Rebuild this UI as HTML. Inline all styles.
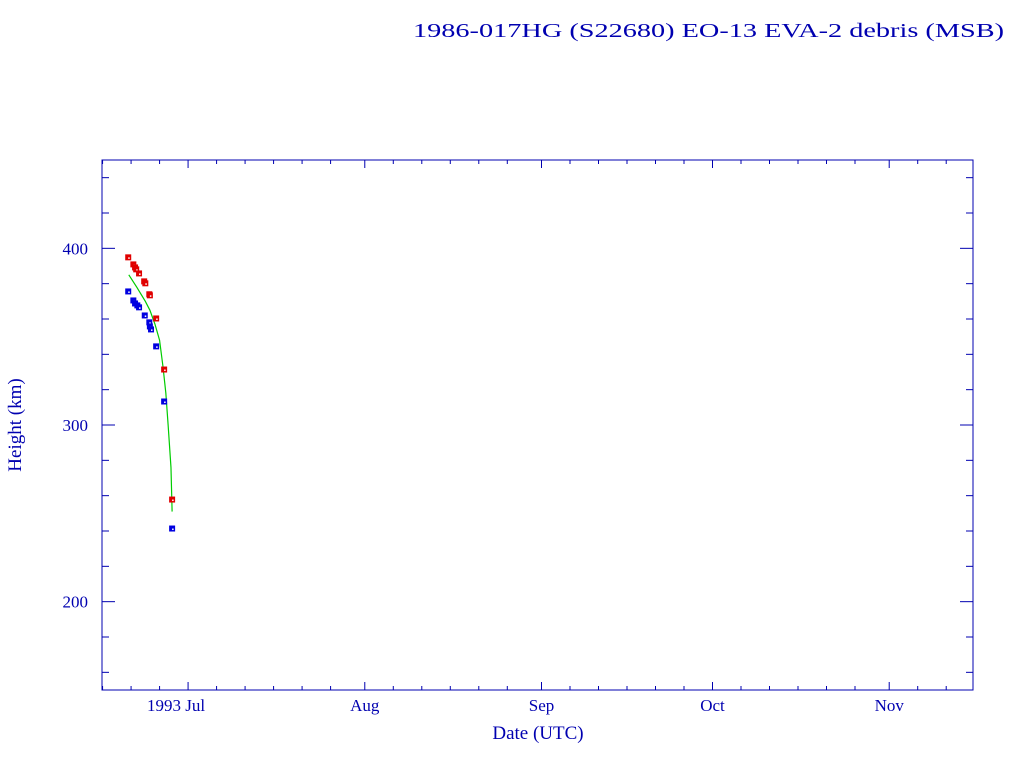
<!DOCTYPE html>
<html><head><meta charset="utf-8"><style>
html,body{margin:0;padding:0;background:#fff;width:1024px;height:768px;overflow:hidden}
text{font-family:"Liberation Serif",serif;fill:#0000b0}
</style></head><body>
<svg id="chart" width="1024" height="768" xmlns="http://www.w3.org/2000/svg">
<text x="413" y="37" font-size="20" textLength="591" lengthAdjust="spacingAndGlyphs">1986-017HG (S22680) EO-13 EVA-2 debris (MSB)</text>
<rect x="102" y="160" width="871" height="530" fill="none" stroke="#0000b0" stroke-width="1"/>
<g id="ticks"></g><g id="marks"></g>
<text transform="translate(21,425) rotate(-90)" text-anchor="middle" font-size="19">Height (km)</text>
<text x="538" y="739" text-anchor="middle" font-size="19">Date (UTC)</text>
</svg>
<script>
const yTicks=[200,300,400];
const xMonthLabels=["1993 Jul","Aug","Sep","Oct","Nov"];
const xMonthDays=[0,31,62,92,123];
const redDays=[-10.5,-9.6,-9.3,-9.1,-8.6,-7.7,-7.5,-6.8,-6.7,-5.6,-4.2,-2.8];
const redHeights=[394.9,390.9,389.2,388.1,385.8,381.3,380.2,374.0,373.4,360.3,331.4,257.8];
const blueDays=[-10.5,-9.6,-9.3,-8.9,-8.6,-7.6,-6.8,-6.7,-6.5,-5.6,-4.2,-2.8];
const blueHeights=[375.6,370.5,368.8,367.7,366.6,362.0,358.1,355.8,354.1,344.5,313.3,241.4];
const fitDays=[-10.4,-9,-7.5,-6.7,-5.8,-5,-4.4,-3.9,-3.5,-3.0,-2.8];
const fitHeights=[385,378,370,365,357,348,333,318,300,276,251];
const NS="http://www.w3.org/2000/svg";
const X0=102,X1=973,Y0=690,Y1=160,D0=-15.1,D1=137.7,H0=150,H1=450;
function sx(d){return X0+(d-D0)/(D1-D0)*(X1-X0);}
function sy(h){return Y0-(h-H0)/(H1-H0)*(Y0-Y1);}
function mk(tag,at,parent){const e=document.createElementNS(NS,tag);for(const k in at)e.setAttribute(k,at[k]);parent.appendChild(e);return e;}
const tg=document.getElementById('ticks'),mg=document.getElementById('marks');
const C="#0000b0";
for(let h=160;h<=440;h+=20){const maj=h%100===0;const L=maj?13:7;const y=sy(h);
 let t=mk('line',{x1:X0,x2:X0+L,y1:y,y2:y,stroke:C},tg);
 
 
 t=mk('line',{x1:X1-L,x2:X1,y1:y,y2:y,stroke:C},tg);
 
 }
yTicks.forEach(v=>{const t=mk('text',{x:88,y:sy(v)+6,'text-anchor':'end','font-size':17},tg);t.textContent=v;
 
 });
const starts=[-30].concat(xMonthDays).concat([153]);
for(let i=0;i<starts.length-1;i++){for(let k=0;k<6;k++){const d=starts[i]+k*5;if(d>=starts[i+1]-2&&k>0)continue;if(d<D0||d>D1)continue;
 const maj=k===0;const L=maj?8:4;const x=sx(d);
 let t=mk('line',{x1:x,x2:x,y1:Y0,y2:Y0-L,stroke:C},tg);
 
 
 t=mk('line',{x1:x,x2:x,y1:Y1,y2:Y1+L,stroke:C},tg);
 
 }}
xMonthLabels.forEach((s,i)=>{const t=mk('text',{x:sx(xMonthDays[i])+(i===0?-12:0),y:711,'text-anchor':'middle','font-size':17},tg);t.textContent=s;
 
 });
const fl=mk('polyline',{points:fitDays.map((d,i)=>sx(d)+','+sy(fitHeights[i])).join(' '),fill:'none',stroke:'#00cc00','stroke-width':1.2},mg);


function pts(days,hs,col,name){days.forEach((d,i)=>{const x=sx(d),y=sy(hs[i]);
 const r=mk('rect',{x:x-3,y:y-3,width:6,height:6,fill:col},mg);
 
 
 mk('rect',{x:x,y:y,width:1.5,height:1.5,fill:'#fff'},mg);});}
pts(redDays,redHeights,'#e00000','apogee-point');
pts(blueDays,blueHeights,'#0000e0','perigee-point');
</script>
</body></html>
